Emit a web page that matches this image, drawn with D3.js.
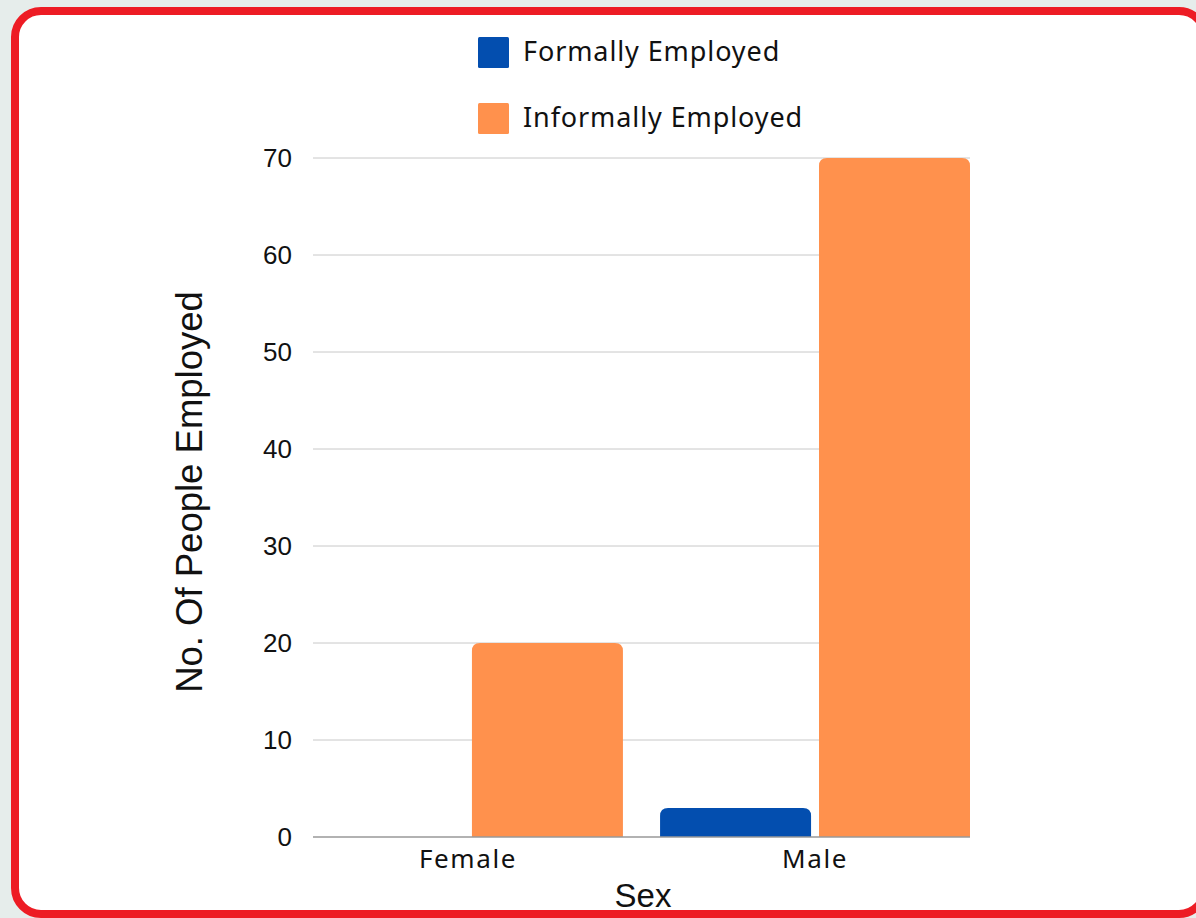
<!DOCTYPE html>
<html>
<head>
<meta charset="utf-8">
<script src="https://cdn.jsdelivr.net/npm/d3@7"></script>
<style>
  html, body { margin: 0; padding: 0; background: #e6edeb; overflow: hidden; }
  svg { display: block; }
</style>
</head>
<body>
<svg id="chart" width="1196" height="918"></svg>
<script>
// Data
const categories = ["Female", "Male"];
const seriesNames = ["Formally Employed", "Informally Employed"];
const formallyEmployed = [0, 3];
const informallyEmployed = [20, 70];
const yTicks = [0, 10, 20, 30, 40, 50, 60, 70];
const seriesColors = ["#034eaf", "#ff914d"];

const svg = d3.select("#chart");
const W = 1196, H = 918;

// Page backdrop and the red-framed card (its right edge runs off the page)
svg.append("rect").attr("width", W).attr("height", H).attr("fill", "#e6edeb");
svg.append("rect")
  .attr("x", 15).attr("y", 11)
  .attr("width", 1190).attr("height", 903)
  .attr("rx", 26).attr("ry", 26)
  .attr("fill", "#ffffff")
  .attr("stroke", "#ed1c24")
  .attr("stroke-width", 8);

const plot = { left: 313, right: 970, top: 158, bottom: 837 };

const x0 = d3.scaleBand().domain(categories)
  .range([plot.left, plot.right])
  .paddingInner(0.107).paddingOuter(0);
const x1 = d3.scaleBand().domain(seriesNames)
  .range([0, x0.bandwidth()])
  .paddingInner(0.05).paddingOuter(0);
const y = d3.scaleLinear().domain([0, 70]).range([plot.bottom, plot.top]);

// Gridlines
svg.append("g").selectAll("line")
  .data(yTicks.filter(d => d !== 0))
  .join("line")
  .attr("x1", plot.left).attr("x2", plot.right)
  .attr("y1", d => y(d)).attr("y2", d => y(d))
  .attr("stroke", "#c8c8c8").attr("stroke-width", 1);

// Y axis tick labels
const yAxis = d3.axisLeft(y).tickValues(yTicks).tickSize(0).tickPadding(0);
const yg = svg.append("g").attr("transform", `translate(${plot.left - 21},0)`).call(yAxis);
yg.select(".domain").remove();
yg.selectAll("text")
  .attr("font-family", "Liberation Sans, Arial, sans-serif")
  .attr("font-size", 26)
  .attr("fill", "#111");

// Bars with rounded top corners
function topRounded(x, yTop, w, h, r) {
  if (h <= 0) return "";
  r = Math.min(r, h, w / 2);
  return `M${x},${yTop + h}V${yTop + r}Q${x},${yTop} ${x + r},${yTop}` +
    `H${x + w - r}Q${x + w},${yTop} ${x + w},${yTop + r}V${yTop + h}Z`;
}

const rows = categories.map((c, i) => ({
  category: c,
  values: [
    { series: seriesNames[0], value: formallyEmployed[i], color: seriesColors[0] },
    { series: seriesNames[1], value: informallyEmployed[i], color: seriesColors[1] }
  ]
}));

svg.append("g").selectAll("g")
  .data(rows)
  .join("g")
  .attr("transform", d => `translate(${x0(d.category)},0)`)
  .selectAll("path")
  .data(d => d.values)
  .join("path")
  .attr("d", d => topRounded(x1(d.series), y(d.value), x1.bandwidth(), y(0) - y(d.value), 8))
  .attr("fill", d => d.color);

// Baseline
svg.append("line")
  .attr("x1", plot.left).attr("x2", plot.right)
  .attr("y1", y(0)).attr("y2", y(0))
  .attr("stroke", "#999999").attr("stroke-width", 1.3);

// X axis labels
const xAxis = d3.axisBottom(x0).tickSize(0).tickPadding(0);
const xg = svg.append("g").attr("transform", `translate(0,${y(0) + 13})`).call(xAxis);
xg.select(".domain").remove();
xg.selectAll("text")
  .attr("font-family", "Noto Sans, sans-serif")
  .attr("font-size", 26)
  .attr("letter-spacing", 1.6)
  .attr("fill", "#111");

// Axis titles
svg.append("text")
  .attr("x", 643).attr("y", 907)
  .attr("text-anchor", "middle")
  .attr("font-family", "Liberation Sans, Arial, sans-serif")
  .attr("font-size", 33)
  .attr("fill", "#111")
  .text("Sex");

svg.append("text")
  .attr("transform", "translate(202,492) rotate(-90)")
  .attr("text-anchor", "middle")
  .attr("font-family", "Liberation Sans, Arial, sans-serif")
  .attr("font-size", 36.5)
  .attr("fill", "#111")
  .text("No. Of People Employed");

// Legend
const legend = svg.append("g").selectAll("g")
  .data(seriesNames)
  .join("g")
  .attr("transform", (d, i) => `translate(478,${37 + i * 66})`);
legend.append("rect")
  .attr("width", 31).attr("height", 31).attr("rx", 1.5)
  .attr("fill", (d, i) => seriesColors[i]);
legend.append("text")
  .attr("x", 45).attr("y", 13.5)
  .attr("dominant-baseline", "central")
  .attr("font-family", "Noto Sans, sans-serif")
  .attr("font-size", 27)
  .attr("letter-spacing", 0.9)
  .attr("fill", "#111")
  .text(d => d);
</script>
</body>
</html>
